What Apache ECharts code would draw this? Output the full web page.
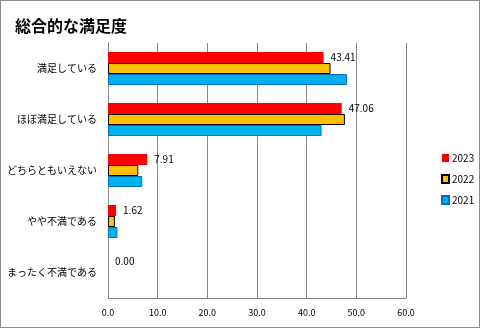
<!DOCTYPE html>
<html>
<head>
<meta charset="utf-8">
<script src="https://cdn.jsdelivr.net/npm/echarts@6/dist/echarts.min.js"></script>
<style>
  html, body { margin: 0; padding: 0; background: #fff; }
  #chart { width: 480px; height: 328px; box-sizing: border-box; border: 1px solid #8c8c8c; }
</style>
</head>
<body>
<div id="chart"></div>
<script>
// Overall satisfaction survey, by year
const categories = ['満足している', 'ほぼ満足している', 'どちらともいえない', 'やや不満である', 'まったく不満である'];
const years = ['2023', '2022', '2021'];
const values2023 = [43.41, 47.06, 7.91, 1.62, 0.00];
const values2022 = [44.8, 47.7, 6.1, 1.4, 0];
const values2021 = [48.1, 43.0, 6.9, 1.9, 0];
const xTicks = { min: 0, max: 60, interval: 10 };

const font = '"Noto Sans CJK JP", "Noto Sans", sans-serif';

// Zero-length bars get no outline so nothing shows on the axis
const outlined = vals => vals.map(v => v === 0 ? { value: v, itemStyle: { borderWidth: 0 } } : v);

const chart = echarts.init(document.getElementById('chart'));
chart.setOption({
  animation: false,
  textStyle: { fontFamily: font },
  title: {
    text: '総合的な満足度',
    left: 9, top: 12,
    textStyle: { fontFamily: font, fontSize: 16, fontWeight: 'bold', color: '#000' }
  },
  legend: {
    data: years,
    orient: 'vertical',
    left: 435, top: 147,
    icon: 'rect',
    itemWidth: 7, itemHeight: 8, itemGap: 11,
    textStyle: { fontFamily: font, fontSize: 10, color: '#000', padding: [0, 0, 0, -2] }
  },
  grid: { left: 107, right: 73, top: 42, bottom: 29, containLabel: false },
  xAxis: {
    type: 'value',
    min: xTicks.min, max: xTicks.max, interval: xTicks.interval,
    axisLine: { show: true, lineStyle: { color: '#868686' } },
    axisTick: { show: false },
    splitLine: { show: true, lineStyle: { color: '#868686', width: 1 } },
    axisLabel: {
      margin: 10, color: '#000', fontSize: 9, fontFamily: font,
      formatter: v => v.toFixed(1)
    }
  },
  yAxis: {
    type: 'category',
    data: categories,
    inverse: true,
    axisLine: { show: true, lineStyle: { color: '#868686' } },
    axisTick: { show: false },
    axisLabel: { margin: 11, color: '#000', fontSize: 10, fontFamily: font }
  },
  series: [
    {
      name: '2023', type: 'bar', data: values2023,
      barWidth: 11, barGap: '0%', barCategoryGap: '33%',
      itemStyle: { color: '#FF0000' },
      label: {
        show: true, position: 'right', distance: 7,
        color: '#000', fontSize: 10, fontFamily: font,
        formatter: p => p.value.toFixed(2)
      }
    },
    {
      name: '2022', type: 'bar', data: outlined(values2022),
      barWidth: 11, barGap: '0%',
      itemStyle: { color: '#FFC000', borderColor: '#000', borderWidth: 1 }
    },
    {
      name: '2021', type: 'bar', data: outlined(values2021),
      barWidth: 11, barGap: '0%',
      itemStyle: { color: '#00B0F0', borderColor: '#0070C0', borderWidth: 1 }
    }
  ]
});
</script>
</body>
</html>
